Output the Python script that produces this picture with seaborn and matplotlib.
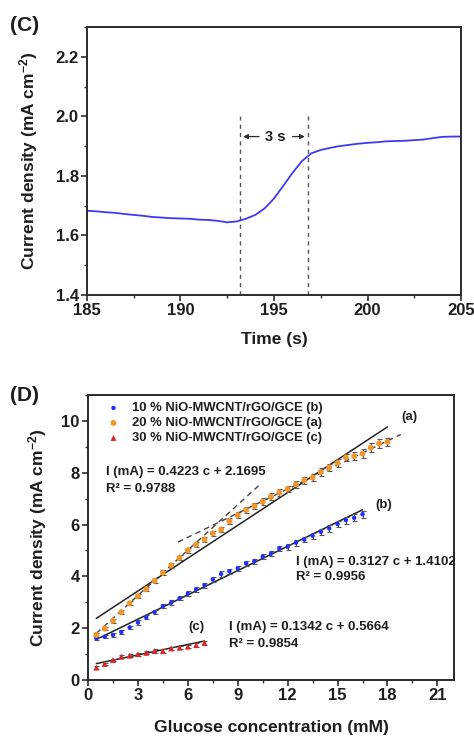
import numpy as np
import pandas as pd
import matplotlib
matplotlib.use("Agg")
import matplotlib.pyplot as plt
from matplotlib.ticker import MultipleLocator
import seaborn as sns

# ---------------- (C) amperometric response ----------------
time_s = [185.0, 185.5, 186.0, 186.5, 187.0, 187.5, 188.0, 188.5, 189.0, 189.5,
          190.0, 190.5, 191.0, 191.5, 192.0, 192.5, 193.0, 193.5, 194.0, 194.5,
          195.0, 195.5, 196.0, 196.5, 197.0, 197.5, 198.0, 198.5, 199.0, 199.5,
          200.0, 200.5, 201.0, 201.5, 202.0, 202.5, 203.0, 203.5, 204.0, 204.5, 205.0]
current_c = [1.683, 1.681, 1.678, 1.676, 1.672, 1.669, 1.666, 1.662, 1.660, 1.658,
             1.657, 1.656, 1.653, 1.652, 1.649, 1.644, 1.647, 1.656, 1.669, 1.691,
             1.724, 1.767, 1.811, 1.850, 1.876, 1.887, 1.894, 1.900, 1.904, 1.908,
             1.911, 1.913, 1.916, 1.917, 1.918, 1.920, 1.922, 1.927, 1.931, 1.932, 1.932]
response_start, response_end = 193.2, 196.8

# ---------------- (D) calibration data ----------------
conc_b = [0.5, 1.0, 1.5, 2.0, 2.5, 3.0, 3.5, 4.0, 4.5, 5.0, 5.5, 6.0, 6.5, 7.0, 7.5, 8.0,
          8.5, 9.0, 9.5, 10.0, 10.5, 11.0, 11.5, 12.0, 12.5, 13.0, 13.5, 14.0, 14.5,
          15.0, 15.5, 16.0, 16.5]
curr_b = [1.61, 1.67, 1.74, 1.85, 2.03, 2.22, 2.42, 2.62, 2.85, 2.99, 3.15, 3.34, 3.50,
          3.66, 3.88, 4.09, 4.20, 4.31, 4.50, 4.59, 4.76, 4.88, 5.08, 5.14, 5.30, 5.42,
          5.57, 5.72, 5.85, 6.02, 6.17, 6.26, 6.40]
err_b = [0.06, 0.06, 0.07, 0.07, 0.07, 0.08, 0.08, 0.08, 0.08, 0.08, 0.08, 0.09, 0.09,
         0.09, 0.09, 0.10, 0.10, 0.10, 0.10, 0.10, 0.10, 0.10, 0.11, 0.11, 0.11, 0.11,
         0.12, 0.12, 0.12, 0.12, 0.13, 0.13, 0.13]

conc_a = [0.5, 1.0, 1.5, 2.0, 2.5, 3.0, 3.5, 4.0, 4.5, 5.0, 5.5, 6.0, 6.5, 7.0, 7.5, 8.0,
          8.5, 9.0, 9.5, 10.0, 10.5, 11.0, 11.5, 12.0, 12.5, 13.0, 13.5, 14.0, 14.5,
          15.0, 15.5, 16.0, 16.5, 17.0, 17.5, 18.0]
curr_a = [1.74, 1.99, 2.29, 2.62, 2.96, 3.24, 3.51, 3.83, 4.14, 4.43, 4.72, 5.01, 5.23,
          5.42, 5.66, 5.81, 6.13, 6.36, 6.56, 6.71, 6.88, 7.07, 7.24, 7.37, 7.55, 7.71,
          7.81, 8.03, 8.20, 8.38, 8.59, 8.64, 8.74, 8.97, 9.13, 9.19]
err_a = [0.07, 0.07, 0.08, 0.08, 0.08, 0.09, 0.09, 0.09, 0.10, 0.10, 0.10, 0.10, 0.11,
         0.11, 0.11, 0.11, 0.12, 0.12, 0.12, 0.12, 0.13, 0.13, 0.13, 0.13, 0.14, 0.14,
         0.14, 0.14, 0.15, 0.15, 0.15, 0.15, 0.16, 0.16, 0.16, 0.17]

conc_c = [0.5, 1.0, 1.5, 2.0, 2.5, 3.0, 3.5, 4.0, 4.5, 5.0, 5.5, 6.0, 6.5, 7.0]
curr_c = [0.48, 0.62, 0.77, 0.90, 0.94, 1.00, 1.05, 1.12, 1.12, 1.22, 1.25, 1.29, 1.35, 1.44]
err_c = [0.05, 0.05, 0.05, 0.05, 0.05, 0.06, 0.06, 0.06, 0.06, 0.06, 0.06, 0.07, 0.07, 0.07]

series_labels = ["10 % NiO-MWCNT/rGO/GCE (b)",
                 "20 % NiO-MWCNT/rGO/GCE (a)",
                 "30 % NiO-MWCNT/rGO/GCE (c)"]

# linear fits: (slope, intercept, R², c_min, c_max)
fit_a = (0.4223, 2.1695, 0.9788, 0.5, 18.0)
fit_b = (0.3127, 1.4102, 0.9956, 0.5, 16.5)
fit_c = (0.1342, 0.5664, 0.9854, 0.5, 7.0)
# two-regime guide lines for (a): (slope, intercept, c_min, c_max)
guide_low = (0.584, 1.51, 0.5, 10.4)
guide_high = (0.310, 3.65, 5.4, 18.8)

# ---------------- styling ----------------
sns.set_theme(style="ticks")
plt.rcParams["font.family"] = ["Liberation Sans", "DejaVu Sans"]
plt.rcParams["font.weight"] = "bold"
plt.rcParams["axes.labelweight"] = "bold"
plt.rcParams["mathtext.fontset"] = "custom"
plt.rcParams["mathtext.rm"] = "Liberation Sans:bold"
plt.rcParams["mathtext.bf"] = "Liberation Sans:bold"
plt.rcParams["mathtext.default"] = "bf"

DARK = "#2b2b2b"
TXT = "#1e1e1e"
fig = plt.figure(figsize=(4.74, 7.37), dpi=100)
ax1 = fig.add_axes([0.1835, 0.5997, 0.7891, 0.3637])
ax2 = fig.add_axes([0.1857, 0.0773, 0.7721, 0.3867])


def style_axes(ax):
    for s in ax.spines.values():
        s.set_color(DARK)
        s.set_linewidth(1.4)
    ax.tick_params(which="major", direction="out", length=4, width=1.2,
                   color=DARK, labelsize=12, pad=2, labelcolor=TXT)
    ax.tick_params(which="minor", direction="out", length=2.5, width=1.0, color=DARK)
    for lab in ax.get_xticklabels() + ax.get_yticklabels():
        lab.set_fontweight("bold")


# ---------------- panel C ----------------
dfc = pd.DataFrame({"t": time_s, "j": current_c})
sns.lineplot(data=dfc, x="t", y="j", ax=ax1, color="#3b3bef", lw=1.3)
ax1.set_xlim(185, 205)
ax1.set_ylim(1.4, 2.3)
ax1.xaxis.set_major_locator(MultipleLocator(5))
ax1.xaxis.set_minor_locator(MultipleLocator(2.5))
ax1.yaxis.set_major_locator(MultipleLocator(0.2))
ax1.yaxis.set_minor_locator(MultipleLocator(0.1))
ax1.yaxis.set_major_formatter(matplotlib.ticker.FormatStrFormatter("%.1f"))
for xv in (response_start, response_end):
    ax1.plot([xv, xv], [1.4, 2.0], ls=(0, (3, 3)), color="#555555", lw=1.0)
ax1.annotate("", xy=(response_start, 1.932), xytext=(194.35, 1.932),
             arrowprops=dict(arrowstyle="-|>", color=DARK, lw=0.9, mutation_scale=7))
ax1.annotate("", xy=(response_end, 1.932), xytext=(195.85, 1.932),
             arrowprops=dict(arrowstyle="-|>", color=DARK, lw=0.9, mutation_scale=7))
ax1.text(195.05, 1.932, "3 s", ha="center", va="center", fontsize=10.5,
         fontweight="bold", color=TXT)
ax1.set_xlabel("Time (s)", fontsize=12.5, fontweight="bold", labelpad=10, color=TXT)
ax1.set_ylabel(r"Current density (mA cm$^{-2}$)", fontsize=12.5, fontweight="bold",
               labelpad=11, color=TXT)
style_axes(ax1)
fig.text(0.022, 0.966, "(C)", fontsize=15, fontweight="bold", va="center", color=TXT)

# ---------------- panel D ----------------
dfb = pd.DataFrame({"c": conc_b, "j": curr_b, "e": err_b})
dfa = pd.DataFrame({"c": conc_a, "j": curr_a, "e": err_a})
dfr = pd.DataFrame({"c": conc_c, "j": curr_c, "e": err_c})

for slope, icpt, c0, c1 in (guide_low, guide_high):
    xs = np.array([c0, c1])
    ax2.plot(xs, slope * xs + icpt, ls=(0, (4, 3)), color="#444444", lw=1.0, zorder=2)
for slope, icpt, _r2, c0, c1 in (fit_a, fit_b, fit_c):
    xs = np.array([c0, c1])
    ax2.plot(xs, slope * xs + icpt, color="#222222", lw=1.1, zorder=2)

for df in (dfb, dfa, dfr):
    ax2.errorbar(df["c"], df["j"], yerr=df["e"], fmt="none", ecolor="#555555",
                 elinewidth=0.8, capsize=1.8, capthick=0.8, zorder=3)

sns.scatterplot(data=dfb, x="c", y="j", ax=ax2, marker="o", s=10, color="#1f2fff",
                edgecolor="none", label=series_labels[0], zorder=4)
sns.scatterplot(data=dfa, x="c", y="j", ax=ax2, marker="h", s=22, color="#f0962a",
                edgecolor="none", label=series_labels[1], zorder=4)
sns.scatterplot(data=dfr, x="c", y="j", ax=ax2, marker="^", s=18, color="#e02424",
                edgecolor="none", label=series_labels[2], zorder=4)

ax2.set_xlim(0, 22)
ax2.set_ylim(0, 11)
ax2.xaxis.set_major_locator(MultipleLocator(3))
ax2.xaxis.set_minor_locator(MultipleLocator(1.5))
ax2.yaxis.set_major_locator(MultipleLocator(2))
ax2.yaxis.set_minor_locator(MultipleLocator(1))
ax2.set_xlabel("Glucose concentration (mM)", fontsize=12.5, fontweight="bold",
               labelpad=12, color=TXT)
ax2.set_ylabel(r"Current density (mA cm$^{-2}$)", fontsize=12.5, fontweight="bold",
               labelpad=9, color=TXT)
style_axes(ax2)

leg = ax2.legend(loc="upper left", frameon=False, fontsize=9.4, handletextpad=0.7,
                 borderaxespad=0.15, labelspacing=0.22, handlelength=1.4,
                 bbox_to_anchor=(0.025, 1.0))
for t in leg.get_texts():
    t.set_fontweight("bold")
    t.set_color(TXT)

eq_fmt = "I (mA) = {:.4f} c + {:.4f}"
eq_kw = dict(fontsize=9.5, fontweight="bold", va="center", color=TXT)
ax2.text(1.06, 8.03, eq_fmt.format(fit_a[0], fit_a[1]), **eq_kw)
ax2.text(1.06, 7.39, "R² = {:.4f}".format(fit_a[2]), **eq_kw)
ax2.text(12.5, 4.56, eq_fmt.format(fit_b[0], fit_b[1]), **eq_kw)
ax2.text(12.5, 3.96, "R² = {:.4f}".format(fit_b[2]), **eq_kw)
ax2.text(8.5, 2.03, eq_fmt.format(fit_c[0], fit_c[1]), **eq_kw)
ax2.text(8.5, 1.39, "R² = {:.4f}".format(fit_c[2]), **eq_kw)
lab_kw = dict(fontsize=9.5, fontweight="bold", ha="center", va="center", color=TXT)
ax2.text(19.35, 10.15, "(a)", **lab_kw)
ax2.text(17.75, 6.75, "(b)", **lab_kw)
ax2.text(6.5, 2.06, "(c)", **lab_kw)

fig.text(0.022, 0.463, "(D)", fontsize=15, fontweight="bold", va="center", color=TXT)

fig.savefig("out.png", dpi=100, facecolor="white")
